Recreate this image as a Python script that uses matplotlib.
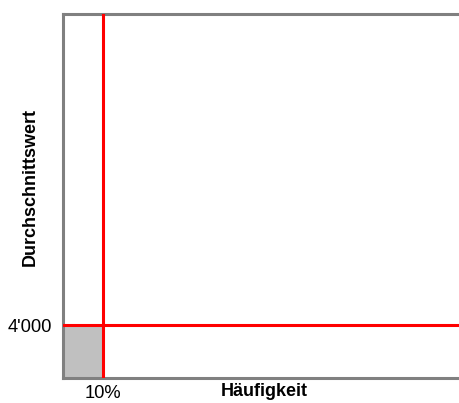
import matplotlib.pyplot as plt

plt.rcParams['font.family'] = ['Liberation Sans', 'DejaVu Sans']

# data
x_threshold = 10          # percent
y_threshold = 4000
x_max = 100
y_max = 27500
x_ticks = [10]
x_tick_labels = ["10%"]
y_ticks = [4000]
y_tick_labels = ["4'000"]

fig = plt.figure(figsize=(4.6, 4.03), dpi=100)
ax = fig.add_axes([63 / 460, 1 - 378 / 403, 400 / 460, 364 / 403])

ax.set_xlim(0, x_max)
ax.set_ylim(0, y_max)

ax.fill_between([0, x_threshold], 0, y_threshold, color='#c0c0c0', zorder=1)
ax.axvline(x_threshold, color='#ff0000', lw=2.2, zorder=3)
ax.axhline(y_threshold, color='#ff0000', lw=2.2, zorder=3)

for side in ['left', 'bottom', 'top']:
    ax.spines[side].set_color('#808080')
    ax.spines[side].set_linewidth(2.2)
ax.spines['right'].set_visible(False)

ax.set_xticks(x_ticks)
ax.set_xticklabels(x_tick_labels, fontsize=13.2)
ax.set_yticks(y_ticks)
ax.set_yticklabels(y_tick_labels, fontsize=13.2)
ax.tick_params(axis='x', length=0, pad=5)
ax.tick_params(axis='y', length=0, pad=8)

fig.text(264 / 460, 1 - 392 / 403, "Häufigkeit", fontsize=13, fontweight='bold',
         ha='center', va='center')
fig.text(30 / 460, 1 - 187 / 403, "Durchschnittswert", fontsize=13, fontweight='bold',
         ha='center', va='center', rotation=90)

fig.savefig("out.png", dpi=100)
